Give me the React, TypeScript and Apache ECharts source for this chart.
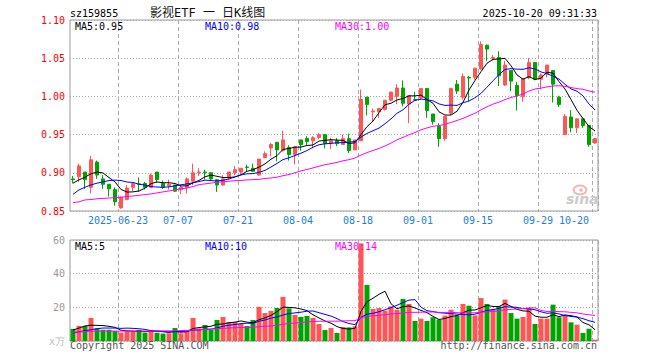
import React, { useEffect, useRef } from "react";
import * as echarts from "echarts";

const dates = [
  "2025-06-11","2025-06-12","2025-06-13","2025-06-16","2025-06-17","2025-06-18","2025-06-19","2025-06-20",
  "2025-06-23","2025-06-24","2025-06-25","2025-06-26","2025-06-27","2025-06-30","2025-07-01","2025-07-02",
  "2025-07-03","2025-07-04","2025-07-07","2025-07-08","2025-07-09","2025-07-10","2025-07-11","2025-07-14",
  "2025-07-15","2025-07-16","2025-07-17","2025-07-18","2025-07-21","2025-07-22","2025-07-23","2025-07-24",
  "2025-07-25","2025-07-28","2025-07-29","2025-07-30","2025-07-31","2025-08-01","2025-08-04","2025-08-05",
  "2025-08-06","2025-08-07","2025-08-08","2025-08-11","2025-08-12","2025-08-13","2025-08-14","2025-08-15",
  "2025-08-18","2025-08-19","2025-08-20","2025-08-21","2025-08-22","2025-08-25","2025-08-26","2025-08-27",
  "2025-08-28","2025-08-29","2025-09-01","2025-09-02","2025-09-03","2025-09-04","2025-09-05","2025-09-08",
  "2025-09-09","2025-09-10","2025-09-11","2025-09-12","2025-09-15","2025-09-16","2025-09-17","2025-09-18",
  "2025-09-19","2025-09-22","2025-09-23","2025-09-24","2025-09-25","2025-09-26","2025-09-29","2025-09-30",
  "2025-10-09","2025-10-10","2025-10-13","2025-10-14","2025-10-15","2025-10-16","2025-10-17","2025-10-20",
];

const opens = [
  0.892,0.895,0.901,0.881,0.914,0.892,0.885,0.878,0.854,0.865,0.881,0.8855,0.886,0.881,0.901,0.886,
  0.883,0.884,0.878,0.881,0.889,0.900,0.901,0.900,0.891,0.884,0.894,0.900,0.901,0.9075,0.906,0.897,
  0.920,0.9325,0.940,0.929,0.933,0.924,0.943,0.945,0.942,0.9465,0.950,0.939,0.942,0.937,0.9447,0.930,
  0.942,0.999,0.980,0.980,0.983,0.995,1.000,1.011,0.990,0.996,0.998,1.0105,0.977,0.961,0.9447,0.978,
  1.016,0.999,1.025,1.025,1.036,1.067,1.050,1.051,1.015,1.034,1.0145,0.9996,1.0245,1.0443,1.0224,1.029,
  1.034,0.999,0.950,0.973,0.959,0.9706,0.962,0.939,
];
const closes = [
  0.891,0.909,0.891,0.917,0.897,0.885,0.879,0.862,0.868,0.880,0.886,0.885,0.881,0.897,0.891,0.881,
  0.885,0.876,0.881,0.892,0.900,0.901,0.900,0.892,0.884,0.892,0.901,0.904,0.906,0.907,0.902,0.918,
  0.925,0.937,0.930,0.943,0.924,0.934,0.937,0.941,0.946,0.950,0.938,0.942,0.938,0.9447,0.929,0.943,
  0.996,0.9895,0.981,0.984,0.995,1.0057,1.011,0.991,1.001,0.995,1.0105,0.9816,0.967,0.9447,0.974,1.0105,
  1.007,1.026,1.024,1.037,1.068,1.062,1.051,1.027,1.041,1.020,1.0013,1.023,1.0443,1.0224,1.028,1.041,
  1.016,0.9895,0.974,0.959,0.9706,0.962,0.937,0.9447,
];
const lows = [
  0.886,0.888,0.879,0.873,0.892,0.879,0.869,0.857,0.853,0.864,0.876,0.875,0.878,0.880,0.887,0.879,
  0.878,0.875,0.872,0.873,0.884,0.896,0.891,0.889,0.875,0.883,0.891,0.897,0.898,0.901,0.901,0.8965,
  0.919,0.9215,0.915,0.928,0.916,0.911,0.929,0.936,0.932,0.944,0.932,0.931,0.935,0.937,0.926,0.930,
  0.942,0.975,0.9675,0.972,0.9816,0.994,0.990,0.987,0.965,0.994,0.996,0.972,0.963,0.934,0.942,0.976,
  1.003,0.996,0.994,1.022,1.035,1.0465,1.047,1.0136,1.0136,1.007,0.9816,0.993,1.0224,1.021,1.009,1.025,
  0.992,0.986,0.950,0.953,0.952,0.959,0.934,0.938,
];
const highs = [
  0.896,0.912,0.901,0.922,0.916,0.897,0.885,0.881,0.869,0.884,0.887,0.894,0.888,0.899,0.901,0.890,
  0.891,0.884,0.884,0.894,0.912,0.906,0.904,0.901,0.892,0.897,0.901,0.909,0.906,0.9105,0.912,0.918,
  0.928,0.939,0.940,0.955,0.936,0.935,0.943,0.948,0.948,0.952,0.950,0.946,0.9456,0.950,0.9513,0.943,
  1.009,0.999,0.984,0.984,0.995,1.0057,1.016,1.021,1.001,1.006,1.0105,1.011,0.977,0.965,0.974,1.0105,
  1.0215,1.030,1.027,1.037,1.072,1.068,1.054,1.059,1.0465,1.034,1.019,1.023,1.050,1.0443,1.030,1.041,
  1.034,1.001,0.977,0.982,0.9706,0.9706,0.962,0.9456,
];
const volumes = [
  7.2,9.0,9.0,13.7,7.5,6.7,6.7,5.9,5.0,5.8,5.8,6.6,5.0,6.6,4.9,4.4,
  4.6,7.7,4.6,6.5,13.7,7.5,9.5,6.6,12.5,14.3,11.3,11.3,10.2,8.9,12.5,20.3,
  16.6,17.9,19.6,26.2,19.4,15.5,14.3,14.9,13.7,10.1,6.5,7.7,4.8,8.3,8.1,8.7,
  58,33.3,19.0,19.6,18.0,20.6,18.6,25.0,22.0,11.9,13.3,11.9,14.1,12.7,15.1,18.6,
  15.2,22.0,21.0,15.2,25.5,22.0,19.0,20.6,24.6,16.6,13.3,14.3,19.6,10.1,13.3,13.3,
  21.6,14.1,15.1,11.1,9.7,4.8,7.3,0.8,
];

// Leading moving-average values (window starts before the visible range)
const ma5Lead = [0.8864, 0.8908, 0.8943, 0.8987];
const ma10Lead = [0.8719, 0.8776, 0.8811, 0.8842, 0.8864, 0.8882, 0.8899, 0.8904, 0.8899];
const ma30Lead = [
  0.861,0.862,0.8645,0.865,0.866,0.8665,0.867,0.8675,0.868,0.869,0.8697,0.8705,0.8715,0.8724,0.8737,
  0.875,0.8763,0.8775,0.879,0.880,0.882,0.8845,0.8855,0.8865,0.8877,0.8883,0.889,0.8897,0.890,
];
const volMa5Lead = [6.5, 7.7, 8.9, 9.4];
const volMa10Lead = [4.75, 5.5, 6.1, 6.7, 7.3, 7.7, 7.7, 7.7, 7.5];
const volMa30Lead = [
  5.2,5.4,5.6,5.8,5.9,5.9,5.9,5.9,5.9,5.9,5.9,5.9,5.9,6.0,6.0,
  6.0,6.0,6.1,6.2,6.3,6.5,6.7,6.9,7.1,7.3,7.5,7.7,7.9,8.0,
];

const labelIndices = [8, 18, 28, 38, 48, 58, 68, 78, 87];

const priceMaLabels = ["MA5:0.95", "MA10:0.98", "MA30:1.00"];
const volMaLabels = ["MA5:5", "MA10:10", "MA30:14"];

const RED = "#FF5555";
const GREEN = "#00A400";
const MONO = '"DejaVu Sans Mono", "Liberation Mono", monospace';

function movingAverage(values: number[], n: number, lead: number[]): number[] {
  return values.map((_, i) => {
    if (i < lead.length) return lead[i];
    let s = 0;
    for (let k = i - n + 1; k <= i; k++) s += values[k];
    return +(s / n).toFixed(4);
  });
}

function txt(text: string, x: number, y: number, fill: string, opts: any = {}) {
  return {
    type: "text",
    x,
    y,
    silent: true,
    style: {
      text,
      fill,
      font: opts.font || `10px ${MONO}`,
      textAlign: opts.align || "left",
      textVerticalAlign: "middle",
    },
    z: 100,
  };
}

export default function App() {
  const ref = useRef<HTMLDivElement>(null);

  useEffect(() => {
    if (!ref.current) return;
    const chart = echarts.init(ref.current, undefined, { renderer: "svg" });

    const candleData = opens.map((o, i) => [o, closes[i], lows[i], highs[i]]);
    const volData = volumes.map((v, i) => ({
      value: v,
      itemStyle: { color: closes[i] >= opens[i] ? RED : GREEN },
    }));

    const ma5 = movingAverage(closes, 5, ma5Lead);
    const ma10 = movingAverage(closes, 10, ma10Lead);
    const ma30 = movingAverage(closes, 30, ma30Lead);
    const vma5 = movingAverage(volumes, 5, volMa5Lead);
    const vma10 = movingAverage(volumes, 10, volMa10Lead);
    const vma30 = movingAverage(volumes, 30, volMa30Lead);

    const showIdx = (idx: number) => labelIndices.indexOf(idx) >= 0;

    const xAxisBase = {
      type: "category",
      data: dates,
      boundaryGap: true,
      axisLine: { show: false },
      axisTick: { show: false },
      splitLine: {
        show: true,
        interval: (idx: number) => showIdx(idx),
        lineStyle: { color: "#aaaaaa", type: [4, 3], width: 1 },
      },
    };

    const lineSeries = (name: string, data: number[], color: string, axis: number) => ({
      name,
      type: "line",
      data,
      xAxisIndex: axis,
      yAxisIndex: axis,
      showSymbol: false,
      symbol: "none",
      smooth: false,
      lineStyle: { color, width: 1 },
      itemStyle: { color },
      z: 5,
      silent: true,
    });

    const option: any = {
      animation: false,
      backgroundColor: "#ffffff",
      grid: [
        { left: 70, top: 20, width: 528, height: 191, show: true, borderColor: "#999999", borderWidth: 1, backgroundColor: "transparent" },
        { left: 70, top: 240, width: 528, height: 101, show: true, borderColor: "#999999", borderWidth: 1, backgroundColor: "transparent" },
      ],
      xAxis: [
        {
          ...xAxisBase,
          gridIndex: 0,
          axisLabel: {
            show: true,
            interval: (idx: number) => showIdx(idx),
            formatter: (v: string, idx: number) => (idx === 8 ? v : v.slice(5)),
            color: "#1A7FE0",
            fontFamily: MONO,
            fontSize: 10,
            margin: 4,
            padding: [0, 6, 0, 0],
            alignMaxLabel: "right",
            hideOverlap: false,
          },
        },
        {
          ...xAxisBase,
          gridIndex: 1,
          axisLabel: { show: false },
        },
      ],
      yAxis: [
        {
          type: "value",
          gridIndex: 0,
          min: 0.85,
          max: 1.1,
          interval: 0.05,
          axisLine: { show: false },
          axisTick: { show: false },
          axisLabel: {
            color: "#FF0000",
            fontFamily: MONO,
            fontSize: 10,
            margin: 5,
            formatter: (v: number) => v.toFixed(2),
          },
          splitLine: { show: true, lineStyle: { color: "#aaaaaa", type: [1, 2], width: 1 } },
        },
        {
          type: "value",
          gridIndex: 1,
          min: 0,
          max: 60,
          interval: 20,
          axisLine: { show: false },
          axisTick: { show: false },
          axisLabel: {
            color: (v: any) => (Number(v) === 0 ? "#bbbbbb" : "#999999"),
            fontFamily: MONO,
            fontSize: 10,
            margin: 5,
            formatter: (v: number) => (v === 0 ? "x万" : String(v)),
          },
          splitLine: { show: true, lineStyle: { color: "#aaaaaa", type: [1, 2], width: 1 } },
        },
      ],
      series: [
        {
          name: "K",
          type: "candlestick",
          xAxisIndex: 0,
          yAxisIndex: 0,
          data: candleData,
          barWidth: 4,
          itemStyle: {
            color: RED,
            color0: GREEN,
            borderColor: RED,
            borderColor0: GREEN,
            borderWidth: 1,
          },
          z: 3,
          silent: true,
        },
        lineSeries("MA5", ma5, "#000000", 0),
        lineSeries("MA10", ma10, "#0000FF", 0),
        lineSeries("MA30", ma30, "#FF00FF", 0),
        {
          name: "VOL",
          type: "bar",
          xAxisIndex: 1,
          yAxisIndex: 1,
          data: volData,
          barWidth: 5,
          z: 3,
          silent: true,
        },
        lineSeries("VMA5", vma5, "#000000", 1),
        lineSeries("VMA10", vma10, "#0000FF", 1),
        lineSeries("VMA30", vma30, "#FF00FF", 1),
      ],
      graphic: [
        txt("sz159855", 70, 13, "#000000"),
        txt("影视ETF 一 日K线图", 150, 12.5, "#111111", { font: `12px "DejaVu Sans Mono", "Noto Sans CJK SC", sans-serif` }),
        txt("2025-10-20 09:31:33", 597, 13, "#000000", { align: "right" }),
        txt(priceMaLabels[0], 75, 26, "#000000"),
        txt(priceMaLabels[1], 205, 26, "#0000FF"),
        txt(priceMaLabels[2], 335, 26, "#FF00FF"),
        txt(volMaLabels[0], 75, 246.5, "#000000"),
        txt(volMaLabels[1], 205, 246.5, "#0000FF"),
        txt(volMaLabels[2], 335, 246.5, "#FF00FF"),
        txt("Copyright 2025 SINA.COM", 70, 345.5, "#555555"),
        txt("http://finance.sina.com.cn", 597, 345.5, "#555555", { align: "right" }),
        {
          type: "ellipse",
          shape: { cx: 580, cy: 190, rx: 6.5, ry: 4.5 },
          style: { fill: "none", stroke: "#F2B6B6", lineWidth: 2 },
          silent: true,
          z: 1,
        },
        {
          type: "circle",
          shape: { cx: 581, cy: 190, r: 1.8 },
          style: { fill: "#F2B6B6" },
          silent: true,
          z: 1,
        },
        txt("sina", 566, 199, "#CCCCCC", { font: `italic bold 14px "DejaVu Sans", sans-serif` }),
      ],
    };

    chart.setOption(option);
    return () => chart.dispose();
  }, []);

  return (
    <div
      ref={ref}
      style={{ position: "fixed", left: 0, top: 0, width: 660, height: 360, background: "#fff" }}
    />
  );
}
